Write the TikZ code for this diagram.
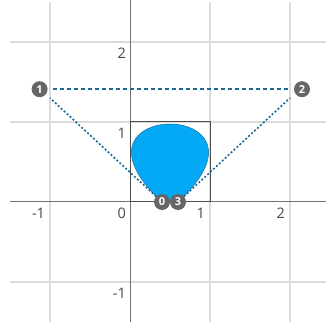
\documentclass[tikz,border=0pt]{standalone}
\usepackage{fontspec}
\setmainfont{Open Sans}
\begin{document}
\begin{tikzpicture}[x=80pt,y=80pt,
  gridln/.style={draw=black!14, line width=1.3pt},
  axisln/.style={draw=black!55, line width=1pt},
  ticklbl/.style={text=black!72, font=\fontsize{14.5}{14.5}\selectfont, inner sep=0pt, anchor=north east},
  ptlbl/.style={circle, fill=black!60, text=white, inner sep=0pt, minimum size=16pt, font=\fontsize{11}{11}\selectfont\bfseries},
  ctrl/.style={draw=dashcol, line width=1.6pt},
]
\definecolor{dashcol}{HTML}{1B6A95}
\definecolor{shapefill}{HTML}{03A9F4}
\definecolor{shapeedge}{HTML}{1C6E9C}
\useasboundingbox (-1.625,-1.55) rectangle (2.45,2.525);
% grid
\foreach \x in {-1,1,2} \draw[gridln] (\x,-1.5) -- (\x,2.5);
\foreach \y in {-1,1,2} \draw[gridln] (-1.5,\y) -- (2.45,\y);
\draw[axisln] (0,-1.5) -- (0,2.525);
\draw[axisln] (-1.5,0) -- (2.45,0);
% tick labels
\node[ticklbl] (xm1) at (-1.06,-0.07) {-1};
\node[ticklbl] (x0) at (-0.05,-0.07) {0};
\node[ticklbl] (x1) at (0.94,-0.07) {1};
\node[ticklbl] (x2) at (1.94,-0.07) {2};
\node[ticklbl] (y2) at (-0.05,1.93) {2};
\node[ticklbl] (y1) at (-0.05,0.93) {1};
\node[ticklbl] (ym1) at (-0.05,-1.07) {-1};
% points
\coordinate (p0) at (0.4,0);
\coordinate (p3) at (0.6,0);
\coordinate (c1) at (-1,1.3);
\coordinate (c2) at (2,1.3);
% bounding box
\draw[draw=black!70, line width=1pt] (0,0) rectangle (1,1);
% shape
\fill[shapefill, draw=shapeedge, line width=0.5pt] (p0) .. controls (c1) and (c2) .. (p3) -- cycle;
% control lines
\draw[ctrl, dash pattern=on 2pt off 2pt] (p0) -- (c1);
\draw[ctrl, dash pattern=on 2pt off 2pt] (p3) -- (c2);
% labels
\node[ptlbl] (n1) at (-1.13,1.41) {1};
\node[ptlbl] (n2) at (2.15,1.41) {2};
\node[ptlbl] (n0) at (p0) {0};
\node[ptlbl] (n3) at (p3) {3};
\draw[ctrl, dash pattern=on 4pt off 3pt, shorten <=5pt, shorten >=5pt] (n1) -- (n2);
\end{tikzpicture}
\end{document}
